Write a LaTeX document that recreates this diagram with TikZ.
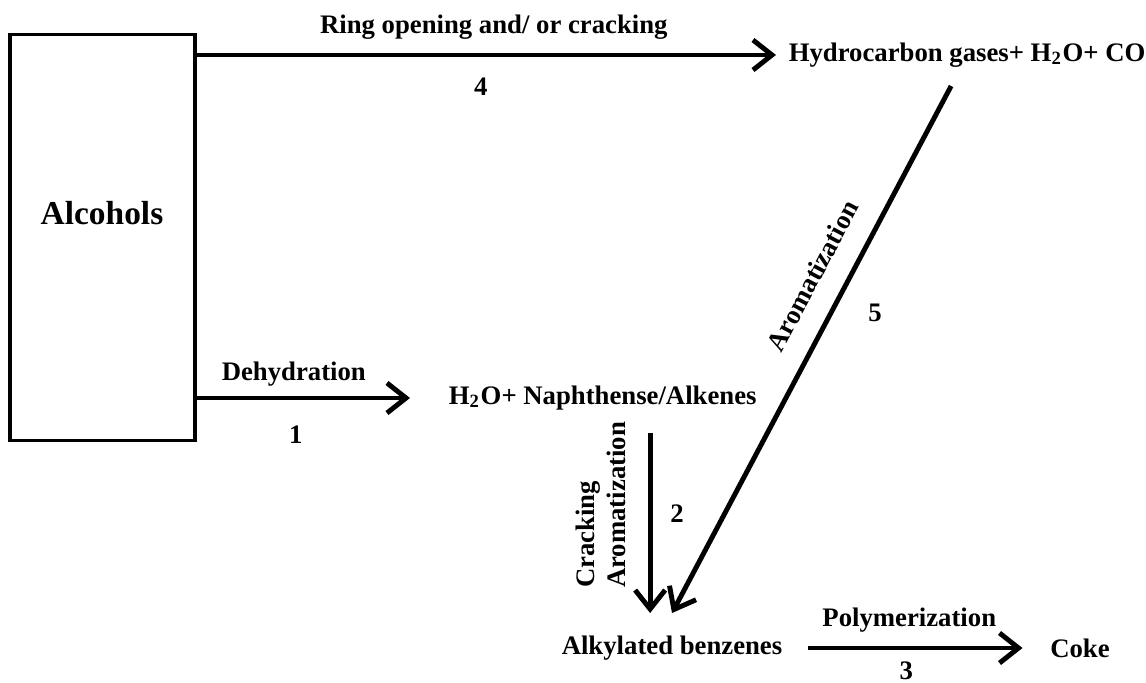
\documentclass[tikz,border=0pt]{standalone}
\usepackage{fontspec}
\setmainfont{Liberation Serif}
\usetikzlibrary{arrows.meta, positioning}

\begin{document}
\begin{tikzpicture}[x=0.01cm, y=-0.01cm, >={Straight Barb[length=1.9mm, width=3mm]},
  line width=1.3pt, font=\fontsize{7.6}{9}\selectfont\bfseries,
  species/.style={inner sep=1pt},
  reaction/.style={->, line width=1.4pt},
  tag/.style={inner sep=0pt}]

\useasboundingbox (0,0) rectangle (1146,682);

% Define nodes
\node[draw, line width=0.9pt, minimum width=1.85cm, minimum height=4.05cm] (alcoholsbox) at (102.5,237.5) {};
\node[font=\fontsize{9.5}{11}\selectfont\bfseries] (alcohols) at (102,213) {Alcohols};

\node[species, anchor=west] (gases) at (783,55) {Hydrocarbon gases+ H\textsubscript{2}O+ CO};
\node[species, anchor=west] (alkenes) at (443,398) {H\textsubscript{2}O+ Naphthense/Alkenes};
\node[species] (benzenes) at (672,648) {Alkylated benzenes};
\node[species] (coke) at (1080,648) {Coke};

% Draw arrows for the reactions
\draw[reaction, shorten >=2pt] (alcoholsbox.east |- gases.west) --
  node[tag, yshift=0.28cm, xshift=0.04cm] {Ring opening and/ or cracking}
  node[tag, yshift=-0.32cm, xshift=-0.09cm] {4} (gases.west);

\draw[reaction, shorten >=0.33cm] (alcoholsbox.east |- alkenes.west) --
  node[tag, yshift=0.24cm, xshift=-0.26cm] {Dehydration}
  node[tag, yshift=-0.37cm, xshift=-0.24cm] {1} (alkenes.west);

\draw[reaction] ([xshift=2.07cm, yshift=-0.17cm]alkenes.south west) --
  node[pos=0.4, rotate=90, anchor=south, align=left, yshift=0.1cm] {Cracking\\Aromatization}
  node[pos=0.45, right=0.06cm] {2}
  ([xshift=2.07cm, yshift=0.17cm]alkenes.south west |- benzenes.north);

\draw[reaction, shorten <=0.2cm, shorten >=0.22cm] (benzenes.east) --
  node[tag, yshift=0.28cm, xshift=-0.07cm] {Polymerization}
  node[tag, yshift=-0.23cm, xshift=-0.1cm] {3} (coke.west);

\draw[reaction] ([xshift=-0.16cm, yshift=-0.13cm]gases.south) --
  node[pos=0.39, sloped, above=0.1cm] {Aromatization}
  node[pos=0.43, right=0.23cm] {5}
  ([yshift=0.17cm]benzenes.north);

\end{tikzpicture}
\end{document}
